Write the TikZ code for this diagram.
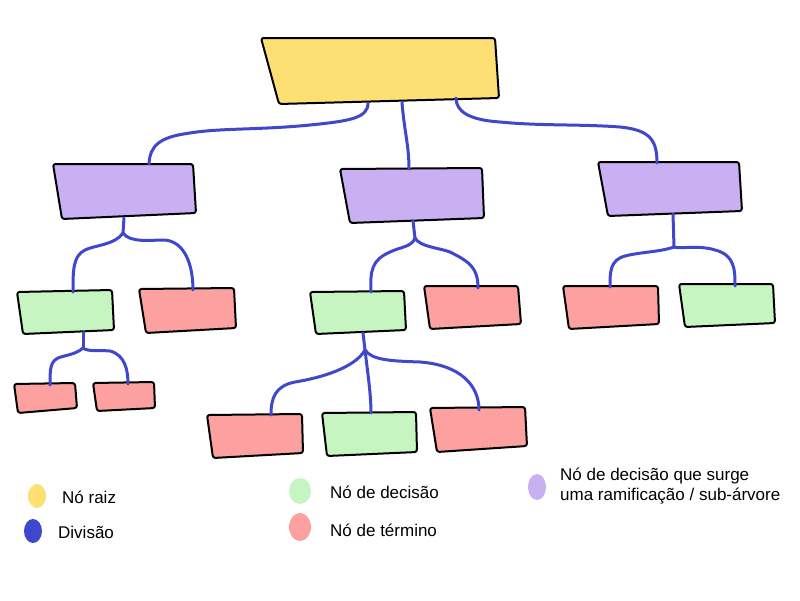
\documentclass[tikz,border=0pt]{standalone}
\usepackage{fontspec}
\setmainfont{Liberation Sans}
\definecolor{cyellow}{HTML}{FDE074}
\definecolor{cpurple}{HTML}{C9B0F3}
\definecolor{cgreen}{HTML}{C6F5C2}
\definecolor{cred}{HTML}{FCA0A0}
\definecolor{cblue}{HTML}{3F48CC}
\tikzset{
  boxst/.style={draw=black, line width=2pt, line join=round, rounded corners=2.5pt},
  conn/.style={draw=cblue, line width=3pt, line cap=round},
  legtext/.style={anchor=west, font=\fontsize{17}{20}\selectfont, inner sep=0pt, align=left},
}
\newcommand{\skbox}[6]{%
  \path[boxst, fill=#2] #3 -- #4 -- #5 -- #6 -- cycle;
  \path #3 -- #5 coordinate[midway] (#1);}
\begin{document}
\begin{tikzpicture}[x=1pt,y=-1pt]
\useasboundingbox (0,0) rectangle (800,600);
\fill[white] (0,0) rectangle (800,600);

% boxes
\skbox{root}{cyellow}{(261,38)}{(495,38)}{(499,98)}{(279,104)}
\skbox{pl}{cpurple}{(53,164)}{(193,164)}{(196,213)}{(62,219)}
\skbox{pm}{cpurple}{(340,169)}{(482,168)}{(484,218)}{(350,223)}
\skbox{pr}{cpurple}{(598,162)}{(739,162)}{(742,211)}{(608,216)}
\skbox{gl}{cgreen}{(17,292)}{(112,290)}{(114,330)}{(23,334)}
\skbox{rl}{cred}{(139,289)}{(234,288)}{(236,328)}{(146,333)}
\skbox{rs1}{cred}{(14,384)}{(75,383)}{(77,408)}{(18,413)}
\skbox{rs2}{cred}{(93,383)}{(154,382)}{(155,408)}{(97,411)}
\skbox{gm}{cgreen}{(310,292)}{(404,291)}{(406,330)}{(316,334)}
\skbox{rm}{cred}{(424,286)}{(518,286)}{(521,324)}{(430,329)}
\skbox{rb1}{cred}{(207,415)}{(302,414)}{(303,453)}{(213,458)}
\skbox{gb}{cgreen}{(322,413)}{(416,412)}{(417,452)}{(327,456)}
\skbox{rb3}{cred}{(430,408)}{(525,407)}{(527,446)}{(437,452)}
\skbox{rr}{cred}{(563,286)}{(658,286)}{(659,324)}{(569,329)}
\skbox{gr}{cgreen}{(679,284)}{(773,284)}{(775,323)}{(685,327)}

% attachment points
\coordinate (rootA) at (368,103);
\coordinate (rootB) at (402,102);
\coordinate (rootC) at (456,98);
\coordinate (plT) at (149,164);
\coordinate (pmT) at (409,169);
\coordinate (prT) at (657,163);
\coordinate (plB) at (124,218);
\coordinate (pmB) at (413,221);
\coordinate (prB) at (673,214);
\coordinate (jl) at (123,233);
\coordinate (jm) at (415,238);
\coordinate (jr) at (674,247);
\coordinate (glT) at (73,292);
\coordinate (rlT) at (193,290);
\coordinate (gmT) at (371,292);
\coordinate (rmT) at (478,288);
\coordinate (rrT) at (610,287);
\coordinate (grT) at (735,286);
\coordinate (glB) at (83,332);
\coordinate (gmB) at (363,333);
\coordinate (jgl) at (83,348);
\coordinate (jgm) at (365,350);
\coordinate (rs1T) at (50,385);
\coordinate (rs2T) at (128,384);
\coordinate (rb1T) at (271,415);
\coordinate (gbT) at (371,413);
\coordinate (rb3T) at (479,410);

% connectors
\draw[conn] (rootA) .. controls (368,118) and (350,121) .. (310,125)
  .. controls (260,130) and (220,128) .. (190,133)
  .. controls (160,137) and (150,145) .. (plT);
\draw[conn] (rootB) .. controls (404,130) and (409,145) .. (pmT);
\draw[conn] (rootC) .. controls (456,112) and (470,120) .. (500,122)
  .. controls (540,126) and (580,124) .. (620,127)
  .. controls (650,130) and (657,140) .. (prT);

\draw[conn] (plB) -- (jl);
\draw[conn] (jl) .. controls (115,245) and (95,245) .. (85,250)
  .. controls (73,256) and (73,270) .. (glT);
\draw[conn] (jl) .. controls (130,243) and (150,240) .. (165,240)
  .. controls (185,242) and (193,265) .. (rlT);

\draw[conn] (glB) -- (jgl);
\draw[conn] (jgl) .. controls (75,355) and (65,355) .. (58,358)
  .. controls (50,362) and (50,370) .. (rs1T);
\draw[conn] (jgl) .. controls (88,352) and (100,350) .. (110,351)
  .. controls (125,355) and (128,370) .. (rs2T);

\draw[conn] (pmB) -- (jm);
\draw[conn] (jm) .. controls (412,247) and (400,247) .. (390,252)
  .. controls (372,260) and (370,270) .. (gmT);
\draw[conn] (jm) .. controls (420,247) and (440,248) .. (450,252)
  .. controls (470,262) and (478,268) .. (rmT);

\draw[conn] (gmB) -- (jgm);
\draw[conn] (jgm) .. controls (355,368) and (320,378) .. (295,382)
  .. controls (275,386) and (271,398) .. (rb1T);
\draw[conn] (jgm) .. controls (368,375) and (371,395) .. (gbT);
\draw[conn] (jgm) .. controls (372,360) and (390,361) .. (420,362)
  .. controls (460,365) and (479,385) .. (rb3T);

\draw[conn] (prB) -- (jr);
\draw[conn] (jr) .. controls (660,252) and (640,252) .. (625,256)
  .. controls (610,260) and (610,272) .. (rrT);
\draw[conn] (jr) .. controls (680,249) and (700,245) .. (715,250)
  .. controls (735,255) and (735,270) .. (grT);

% legend
\fill[cyellow] (37,496) ellipse [x radius=9, y radius=12];
\node[legtext] (l1) at (62,497) {Nó raiz};
\fill[cblue] (33,531) ellipse [x radius=9, y radius=12];
\node[legtext] (l2) at (58,532) {Divisão};
\fill[cgreen] (300,491) ellipse [x radius=11, y radius=13];
\node[legtext] (l3) at (330,492) {Nó de decisão};
\fill[cred] (300,527) ellipse [x radius=11, y radius=14];
\node[legtext] (l4) at (330,530) {Nó de término};
\fill[cpurple] (537,487) ellipse [x radius=9, y radius=13];
\node[legtext] (l5) at (560,486) {Nó de decisão que surge\\uma ramificação / sub-árvore};
\end{tikzpicture}
\end{document}
